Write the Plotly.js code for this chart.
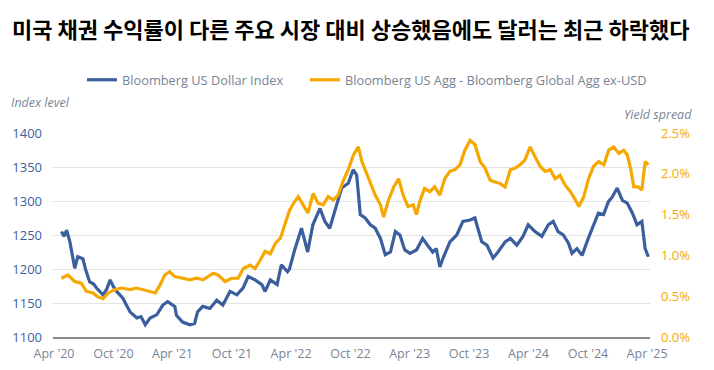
<!DOCTYPE html>
<html>
<head>
<meta charset="utf-8">
<script src="https://cdn.plot.ly/plotly-3.0.1.min.js"></script>
<style>html,body{margin:0;padding:0;background:#fff;}#chart{width:714px;height:370px;}</style>
</head>
<body>
<div id="chart"></div>
<script>
// Bloomberg US Dollar Index (left axis)
const dxyDates = ["2020-04-24","2020-05-02","2020-05-10","2020-05-20","2020-06-04","2020-06-13","2020-06-29","2020-07-08","2020-07-20","2020-08-01","2020-08-10","2020-08-30","2020-09-10","2020-09-21","2020-10-01","2020-10-11","2020-10-30","2020-11-10","2020-11-21","2020-12-12","2020-12-25","2021-01-07","2021-01-22","2021-02-12","2021-03-02","2021-03-17","2021-04-08","2021-04-13","2021-05-02","2021-05-24","2021-06-08","2021-06-17","2021-07-03","2021-07-25","2021-08-15","2021-09-03","2021-09-25","2021-10-16","2021-11-04","2021-11-20","2021-12-11","2022-01-01","2022-01-11","2022-01-27","2022-02-17","2022-03-02","2022-03-21","2022-03-27","2022-04-12","2022-05-03","2022-05-22","2022-06-07","2022-06-29","2022-07-14","2022-07-29","2022-08-19","2022-09-04","2022-09-24","2022-10-09","2022-10-20","2022-10-31","2022-11-15","2022-12-01","2022-12-16","2023-01-01","2023-01-16","2023-02-01","2023-02-16","2023-03-02","2023-03-17","2023-04-02","2023-04-22","2023-05-11","2023-05-26","2023-06-11","2023-06-22","2023-07-03","2023-07-12","2023-08-03","2023-08-24","2023-09-12","2023-10-04","2023-10-19","2023-10-28","2023-11-09","2023-11-25","2023-12-14","2023-12-29","2024-01-20","2024-02-05","2024-02-25","2024-03-15","2024-03-31","2024-04-21","2024-05-12","2024-06-01","2024-06-16","2024-07-01","2024-07-17","2024-08-02","2024-08-13","2024-08-28","2024-09-13","2024-10-02","2024-10-17","2024-11-02","2024-11-18","2024-12-03","2024-12-15","2024-12-30","2025-01-15","2025-01-30","2025-02-15","2025-03-01","2025-03-16","2025-03-26","2025-04-05"];
const dxyValues = [1255,1248,1257,1240,1201,1218,1215,1198,1181,1178,1172,1162,1170,1184,1174,1167,1157,1147,1137,1128,1130,1118,1128,1133,1147,1152,1145,1132,1122,1118,1120,1137,1145,1142,1154,1147,1167,1162,1172,1189,1184,1177,1167,1184,1177,1206,1196,1200,1228,1260,1225,1265,1289,1270,1260,1294,1319,1326,1346,1338,1280,1275,1265,1260,1245,1221,1225,1255,1250,1228,1223,1228,1245,1235,1225,1230,1203,1215,1240,1250,1270,1272,1275,1260,1240,1235,1216,1225,1240,1245,1235,1248,1265,1255,1248,1265,1270,1255,1250,1238,1223,1230,1220,1245,1262,1282,1280,1299,1306,1319,1301,1297,1282,1265,1270,1230,1218];

// Bloomberg US Agg - Bloomberg Global Agg ex-USD yield spread, % (right axis)
const spreadDates = ["2020-04-24","2020-05-14","2020-06-04","2020-06-24","2020-07-10","2020-07-30","2020-08-15","2020-08-30","2020-09-15","2020-10-05","2020-10-26","2020-11-21","2020-12-12","2021-01-02","2021-01-22","2021-02-07","2021-02-22","2021-03-08","2021-03-23","2021-04-08","2021-05-03","2021-05-24","2021-06-14","2021-07-04","2021-08-04","2021-08-19","2021-09-10","2021-09-30","2021-10-20","2021-11-05","2021-11-26","2021-12-11","2021-12-27","2022-01-11","2022-01-27","2022-02-12","2022-02-27","2022-03-12","2022-03-27","2022-04-12","2022-04-23","2022-05-08","2022-05-23","2022-06-08","2022-06-23","2022-07-09","2022-07-24","2022-08-09","2022-08-24","2022-09-09","2022-09-24","2022-10-10","2022-10-25","2022-11-05","2022-11-15","2022-12-01","2022-12-16","2023-01-01","2023-01-11","2023-01-26","2023-02-11","2023-02-26","2023-03-12","2023-03-27","2023-04-12","2023-04-22","2023-05-02","2023-05-17","2023-06-02","2023-06-17","2023-07-03","2023-07-18","2023-08-03","2023-08-18","2023-09-03","2023-09-18","2023-10-04","2023-10-19","2023-11-04","2023-11-19","2023-12-05","2023-12-20","2024-01-05","2024-01-20","2024-02-05","2024-02-20","2024-03-06","2024-03-21","2024-04-06","2024-04-21","2024-05-07","2024-05-22","2024-06-07","2024-06-22","2024-07-07","2024-07-23","2024-08-08","2024-08-23","2024-09-03","2024-09-18","2024-10-03","2024-10-18","2024-11-03","2024-11-19","2024-12-04","2024-12-19","2025-01-04","2025-01-19","2025-01-30","2025-02-09","2025-02-19","2025-03-05","2025-03-16","2025-03-26","2025-04-05"];
const spreadValues = [0.72,0.76,0.68,0.66,0.56,0.54,0.49,0.47,0.54,0.58,0.60,0.58,0.60,0.58,0.56,0.54,0.64,0.76,0.80,0.74,0.72,0.70,0.72,0.70,0.78,0.76,0.68,0.72,0.72,0.84,0.88,0.84,0.94,1.05,1.02,1.15,1.21,1.37,1.55,1.66,1.72,1.62,1.52,1.76,1.64,1.62,1.72,1.68,1.74,1.92,2.05,2.23,2.33,2.15,2.05,1.90,1.74,1.62,1.47,1.68,1.84,1.94,1.74,1.60,1.62,1.50,1.66,1.82,1.78,1.84,1.74,1.94,2.03,2.05,2.11,2.29,2.41,2.36,2.15,2.07,1.92,1.90,1.88,1.84,2.05,2.07,2.11,2.17,2.33,2.21,2.09,2.03,2.05,1.94,1.98,1.86,1.78,1.68,1.60,1.72,1.94,2.09,2.15,2.11,2.29,2.33,2.25,2.29,2.23,2.07,1.84,1.84,1.80,2.15,2.11];

const xTickVals = ["2020-04-01","2020-10-01","2021-04-01","2021-10-01","2022-04-01","2022-10-01","2023-04-01","2023-10-01","2024-04-01","2024-10-01","2025-04-01"];
const xTickText = ["Apr '20","Oct '20","Apr '21","Oct '21","Apr '22","Oct '22","Apr '23","Oct '23","Apr '24","Oct '24","Apr '25"];
const leftTicks = [1100,1150,1200,1250,1300,1350,1400];
const rightTicks = [0,0.5,1.0,1.5,2.0,2.5];
const rightTickText = ["0.0%","0.5%","1.0%","1.5%","2.0%","2.5%"];

const BLUE = "#3b5f9e", ORANGE = "#f5a800", GRAY = "#7a8394";
const FONT = "'Open Sans', 'Noto Sans', sans-serif";

const traces = [
  {x: dxyDates, y: dxyValues, type: "scatter", mode: "lines", name: "Bloomberg US Dollar Index",
   line: {color: BLUE, width: 3.2}, yaxis: "y", legend: "legend"},
  {x: spreadDates, y: spreadValues, type: "scatter", mode: "lines", name: "Bloomberg US Agg - Bloomberg Global Agg ex-USD",
   line: {color: ORANGE, width: 3.2}, yaxis: "y2", legend: "legend2"}
];

const legendFont = {family: FONT, size: 12.8, color: GRAY};
const layout = {
  width: 714, height: 370,
  margin: {l: 53, r: 64, t: 133, b: 33},
  paper_bgcolor: "#fff", plot_bgcolor: "#fff",
  font: {family: FONT, color: GRAY, size: 12},
  title: {text: "<b>미국 채권 수익률이 다른 주요 시장 대비 상승했음에도 달러는 최근 하락했다</b>",
          font: {family: "'Noto Sans CJK KR', sans-serif", size: 22, color: "#000"},
          x: 0.0168, xref: "container", xanchor: "left", y: 0.918, yanchor: "middle"},
  showlegend: true,
  legend: {orientation: "h", x: 0.0486, xanchor: "left", y: 1.26, yanchor: "middle", itemwidth: 30,
           font: legendFont, bgcolor: "rgba(0,0,0,0)"},
  legend2: {orientation: "h", x: 0.422, xanchor: "left", y: 1.26, yanchor: "middle", itemwidth: 30,
           font: legendFont, bgcolor: "rgba(0,0,0,0)"},
  xaxis: {type: "date", range: ["2020-03-29","2025-04-10"], tickvals: xTickVals, ticktext: xTickText,
          tickfont: {family: FONT, size: 12.5, color: GRAY}, showgrid: false, zeroline: false,
          showline: true, linecolor: "#8a8a8a", linewidth: 1.5, ticks: "", ticklabelstandoff: 4},
  yaxis: {range: [1100, 1400], tickvals: leftTicks, tickfont: {family: FONT, size: 13, color: BLUE},
          showgrid: true, gridcolor: "#e3e3e3", gridwidth: 1, zeroline: false, ticks: "", ticklabelstandoff: 10},
  yaxis2: {range: [0, 2.5], tickvals: rightTicks, ticktext: rightTickText, overlaying: "y", side: "right",
           tickfont: {family: FONT, size: 13, color: ORANGE}, showgrid: false, zeroline: false, ticks: "", ticklabelstandoff: 10},
  annotations: [
    {text: "<i>Index level</i>", xref: "paper", yref: "paper", x: -0.073, y: 1.15, xanchor: "left", yanchor: "middle",
     showarrow: false, font: {family: FONT, size: 12.5, color: GRAY}},
    {text: "<i>Yield spread</i>", xref: "paper", yref: "paper", x: 1.073, y: 1.09, xanchor: "right", yanchor: "middle",
     showarrow: false, font: {family: FONT, size: 12.5, color: GRAY}}
  ]
};

Plotly.newPlot("chart", traces, layout, {displayModeBar: false, staticPlot: true});
</script>
</body>
</html>
